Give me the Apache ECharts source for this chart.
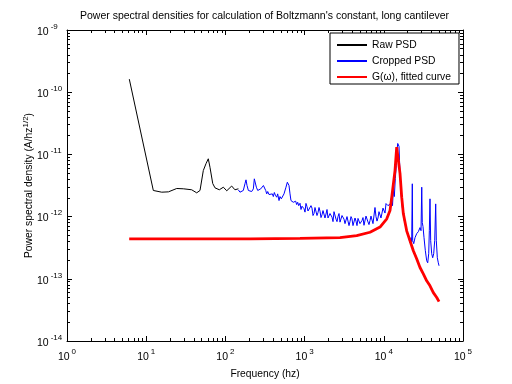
<!DOCTYPE html>
<html><head><meta charset="utf-8">
<script src="https://cdn.jsdelivr.net/npm/echarts@6/dist/echarts.min.js"></script>
<style>html,body{margin:0;padding:0;background:#fff}#c{width:512px;height:384px}</style>
</head><body><div id="c"></div>
<script>
// Raw PSD (black): [frequency Hz, PSD]
const rawData = [
 [6.12,1.62e-10],[12.3,2.63e-12],[15.7,2.47e-12],[19.1,2.5e-12],[24.3,2.83e-12],[29.4,2.8e-12],
 [37.5,2.7e-12],[43.4,2.41e-12],[47.8,2.63e-12],[52.6,5.5e-12],[56.9,7.1e-12],[60.8,8.5e-12],
 [63.9,6.2e-12],[69.2,3.4e-12],[73.9,2.9e-12],[83.8,2.7e-12],[94.2,2.97e-12],[104,2.6e-12],
 [120,3.1e-12],[132,2.7e-12],[146,2.8e-12]
];
// Cropped PSD (blue)
const croppedData = [
 [145.6,2.69e-12],[152.8,2.47e-12],[160.3,2.41e-12],[168.3,2.63e-12],[176.6,3.37e-12],[182,3.9e-12],
 [187.5,3.16e-12],[195,2.63e-12],[204.6,2.47e-12],[214.7,2.53e-12],[225.4,2.79e-12],[231.8,4.05e-12],
 [238.7,4.3e-12],[246,2.97e-12],[255.9,2.63e-12],[268.5,2.56e-12],[279.3,2.79e-12],[293,2.63e-12],
 [302,3.16e-12],[310.5,3.28e-12],[322.9,2.63e-12],[332.5,2.32e-12],[342,2.53e-12],[355.6,2.26e-12],
 [365.6,2.38e-12],[376.7,2.18e-12],[391.5,2.32e-12],[402.7,2.1e-12],[415,2.44e-12],[427.4,2.21e-12],
 [444.6,2.05e-12],[457,2.32e-12],[475.3,1.81e-12],[488.7,2.1e-12],[508,1.93e-12],[528.5,2.05e-12],
 [549.5,2.32e-12],[566,2.47e-12],[582,2.97e-12],[605.5,3.57e-12],[623.6,3.71e-12],[635.5,3.16e-12],
 [654.6,2.32e-12],[673,1.81e-12],[700,1.86e-12],[720,1.7e-12],[750,1.6e-12],[771,1.77e-12],
 [794,1.56e-12],[818,1.7e-12],[842,1.5e-12],[875,1.64e-12],
 [900.7,1.30e-12],[927,1.47e-12],[954,1.56e-12],[983,1.34e-12],[1012,1.18e-12],[1041,1.63e-12],
 [1072,1.45e-12],[1104,1.23e-12],[1136,1.16e-12],[1170,1.30e-12],[1204,1.50e-12],[1240,1.37e-12],
 [1277,1.04e-12],[1314,1.12e-12],[1353,1.40e-12],[1393,1.47e-12],[1434,1.04e-12],[1476,1.16e-12],
 [1520,1.40e-12],[1565,1.22e-12],[1611,9.64e-13],[1659,1.07e-12],[1708,1.25e-12],[1758,1.30e-12],
 [1809,9.5e-13],[1863,1.10e-12],[1918,1.30e-12],[1975,9.5e-13],[2033,9.1e-13],[2093,1.12e-12],
 [2154,1.16e-12],[2218,9.8e-13],[2284,8.30e-13],[2351,1.20e-12],[2420,1.12e-12],[2492,9.1e-13],
 [2566,8.30e-13],[2641,1.00e-12],[2719,1.12e-12],[2799,8.15e-13],[2882,7.71e-13],[2967,1.04e-12],
 [3054,1.08e-12],[3144,9.1e-13],[3237,7.71e-13],[3333,8.30e-13],[3431,1.00e-12],[3532,1.02e-12],
 [3636,7.16e-13],[3743,8.30e-13],[3854,1.00e-12],[3967,9.2e-13],[4084,7.16e-13],[4205,7.6e-13],
 [4329,9.5e-13],[4457,8.45e-13],[4588,7.16e-13],[4723,9.35e-13],[4863,1.00e-12],[5006,7.71e-13],
 [5153,7.16e-13],[5306,8.65e-13],[5462,9.64e-13],[5623,7.25e-13],[5788,7.0e-13],[5960,1.02e-12],
 [6135,9.5e-13],[6316,8.2e-13],[6502,7.43e-13],[6695,8.62e-13],[6891,1.02e-12],[7096,9.64e-13],
 [7303,7.71e-13],[7520,8.2e-13],[7740,1.40e-12],[7970,1.00e-12],[8204,8.46e-13],[8448,9.5e-13],
 [8694,1.20e-12],[8954,1.25e-12],[9218,9.5e-13],[9490,1.14e-12],[9770,1.37e-12],[10058,1.30e-12],
 [10356,1.14e-12],[10661,1.62e-12],[10975,1.71e-12],[11298,1.50e-12],[11632,1.50e-12],
 [12160,1.62e-12],[12500,2.02e-12],[12880,1.50e-12],[13190,2.63e-12],[13580,2.10e-12],[13980,4.1e-12],
 [14390,6.65e-12],[14680,1.16e-11],[14990,1.50e-11],[15250,1.58e-11],[15560,1.35e-11],[15790,8.0e-12],
 [16100,4.58e-12],[16480,2.44e-12],[17130,1.41e-12],[17640,1.08e-12],[18150,8.62e-13],[18690,7.43e-13],
 [19080,6.40e-13],[19630,5.94e-13],[20220,5.13e-13],[20800,4.42e-13],[21420,3.81e-13],[22040,4.58e-13],
 [22500,3.95e-13],[22900,3.37e-12],[23170,4.1e-13],[23870,3.67e-13],[24780,4.58e-13],[26020,5.32e-13],
 [27300,5.73e-13],[28650,6.65e-13],[29510,5.94e-13],[30130,2.97e-12],[30620,8.0e-13],[31270,6.90e-13],
 [32200,4.58e-13],[33450,2.83e-13],[34800,1.95e-13],[35850,1.81e-13],[36900,2.53e-13],[37580,5.94e-13],
 [38300,1.93e-12],[39080,4.1e-13],[40250,2.53e-13],[41430,2.18e-13],[42660,2.53e-13],[43930,4.1e-13],
 [45210,1.6e-12],[46030,4.1e-13],[47400,2.18e-13],[48780,1.81e-13],[49800,1.62e-13]
];
// G(omega), fitted curve (red)
const fitData = [
 [6.1,4.4e-13],[48,4.4e-13],[205,4.4e-13],[875,4.45e-13],[2800,4.6e-13],[4550,4.94e-13],
 [6700,5.6e-13],[8960,6.8e-13],[10900,9.2e-13],[11980,1.25e-12],[12600,2.05e-12],[13850,5.5e-12],
 [14550,1.31e-11],[15250,1.4e-11],[16020,4.94e-12],[16830,2.05e-12],[17640,1.12e-12],[19450,5.9e-13],
 [21420,4.1e-13],[23600,2.83e-13],[26000,2.1e-13],[28650,1.52e-13],[31550,1.2e-13],[34800,9.3e-14],
 [38300,7.7e-14],[42200,6e-14],[46600,5e-14],[49800,4.3e-14]
];
const xMajor = [1, 10, 100, 1000, 10000, 100000];
const yMajor = [1e-14, 1e-13, 1e-12, 1e-11, 1e-10, 1e-9];
const minorMult = [2, 3, 4, 5, 6, 7, 8, 9];

const xMinor = [], yMinor = [];
for (let i = 0; i < xMajor.length - 1; i++) minorMult.forEach(m => xMinor.push(m * xMajor[i]));
for (let i = 0; i < yMajor.length - 1; i++) minorMult.forEach(m => yMinor.push(m * yMajor[i]));

const FONT = 'Liberation Sans';
const FS = 10.3;
const expFmt = v => '{b|10}{e|' + Math.round(Math.log10(v)) + '}';
const richLbl = {
  b: {fontSize: 10.5, fontFamily: FONT, color: '#000', verticalAlign: 'bottom'},
  e: {fontSize: 8, fontFamily: FONT, color: '#000', verticalAlign: 'bottom', padding: [0, 0, 7, 2]}
};

function mkAxis(pos, isX, major, minor, showLabels, min, max) {
  const base = {type: 'log', logBase: 10, min: min, max: max, position: pos, gridIndex: 0,
    splitLine: {show: false}, minorTick: {show: false}};
  if (minor) {
    return Object.assign(base, {
      axisLine: {show: false},
      axisTick: {show: true, inside: true, length: 3, customValues: minor, lineStyle: {color: '#000', width: 1}},
      axisLabel: {show: false}
    });
  }
  return Object.assign(base, {
    axisLine: {show: true, onZero: false, lineStyle: {color: '#000', width: 1}},
    axisTick: {show: true, inside: true, length: 5, customValues: major, lineStyle: {color: '#000', width: 1}},
    axisLabel: showLabels ? Object.assign({show: true, customValues: major, formatter: expFmt, rich: richLbl},
      isX ? {margin: 7} : {align: 'left', margin: 30}) : {show: false}
  });
}

const chart = echarts.init(document.getElementById('c'), null, {renderer: 'canvas'});
chart.setOption({
  animation: false,
  backgroundColor: '#fff',
  title: {
    text: "Power spectral densities for calculation of Boltzmann's constant, long cantilever",
    left: 80, top: 11, padding: 0,
    textStyle: {fontSize: 10.5, fontWeight: 'normal', fontFamily: FONT, color: '#000'}
  },
  grid: {left: 67, right: 49, top: 30, bottom: 43, containLabel: false},
  legend: {
    orient: 'vertical', left: 330, top: 33, padding: [7, 8, 2, 6],
    itemWidth: 30, itemHeight: 11, itemGap: 6,
    borderColor: '#000', borderWidth: 1, backgroundColor: '#fff',
    itemStyle: {opacity: 0},
    textStyle: {fontSize: FS, fontFamily: FONT, color: '#000'},
    data: ['Raw PSD', 'Cropped PSD', 'G(\u03c9), fitted curve']
  },
  xAxis: [
    Object.assign(mkAxis('bottom', true, xMajor, null, true, 1, 100000), {
      name: 'Frequency (hz)', nameLocation: 'middle', nameGap: 28, nameMoveOverlap: false,
      nameTextStyle: {fontSize: FS, fontFamily: FONT, color: '#000'}
    }),
    mkAxis('top', true, xMajor, null, false, 1, 100000),
    mkAxis('bottom', true, xMajor, xMinor, false, 1, 100000),
    mkAxis('top', true, xMajor, xMinor, false, 1, 100000)
  ],
  yAxis: [
    Object.assign(mkAxis('left', false, yMajor, null, true, 1e-14, 1e-9), {
      name: 'Power spectral density (A/hz{s|1/2})', nameLocation: 'middle', nameGap: 31, nameMoveOverlap: false,
      nameTextStyle: {fontSize: FS, fontFamily: FONT, color: '#000',
        rich: {s: {fontSize: 8, fontFamily: FONT, color: '#000', verticalAlign: 'bottom', padding: [0, 0, 6, 0]}}}
    }),
    mkAxis('right', false, yMajor, null, false, 1e-14, 1e-9),
    mkAxis('left', false, yMajor, yMinor, false, 1e-14, 1e-9),
    mkAxis('right', false, yMajor, yMinor, false, 1e-14, 1e-9)
  ],
  series: [
    {name: 'Raw PSD', type: 'line', data: rawData, symbol: 'none', xAxisIndex: 0, yAxisIndex: 0,
     lineStyle: {color: '#000', width: 1}, itemStyle: {color: '#000'}},
    {name: 'Cropped PSD', type: 'line', data: croppedData, symbol: 'none', xAxisIndex: 0, yAxisIndex: 0,
     lineStyle: {color: '#0000ff', width: 1}, itemStyle: {color: '#0000ff'}},
    {name: 'G(\u03c9), fitted curve', type: 'line', data: fitData, symbol: 'none', xAxisIndex: 0, yAxisIndex: 0,
     lineStyle: {color: '#ff0000', width: 2.8}, itemStyle: {color: '#ff0000'}}
  ]
});
</script></body></html>
